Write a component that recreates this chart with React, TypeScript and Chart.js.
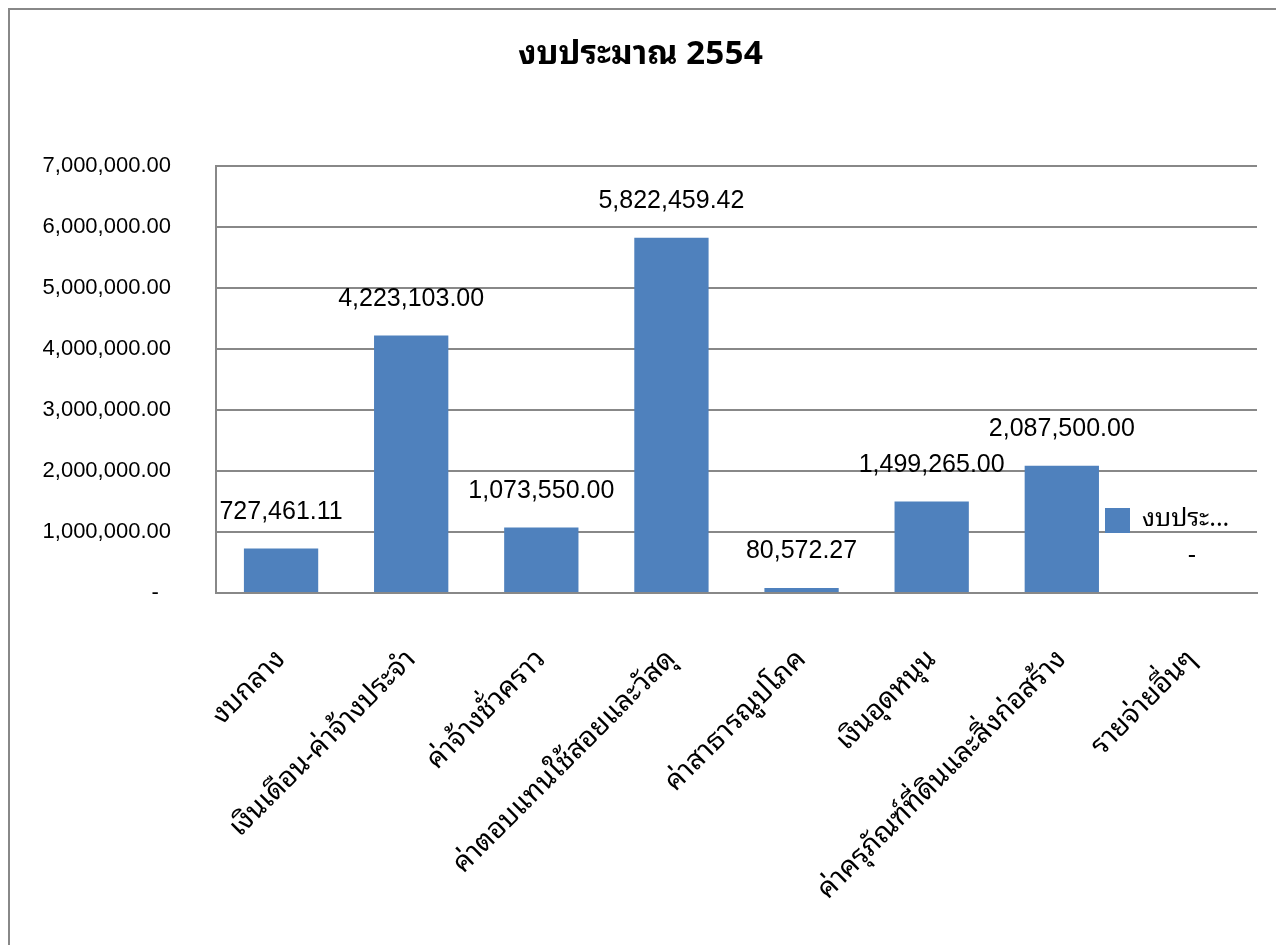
import React, { useEffect, useRef } from "react";
import { Chart, registerables } from "chart.js";

Chart.register(...registerables);

const chartTitle = "งบประมาณ 2554";
const seriesName = "งบประมาณ 2554";
const categories = [
  "งบกลาง",
  "เงินเดือน-ค่าจ้างประจำ",
  "ค่าจ้างชั่วคราว",
  "ค่าตอบแทนใช้สอยและวัสดุ",
  "ค่าสาธารณูปโภค",
  "เงินอุดหนุน",
  "ค่าครุภัณฑ์ที่ดินและสิ่งก่อสร้าง",
  "รายจ่ายอื่นๆ",
];
const budgetValues = [727461.11, 4223103.0, 1073550.0, 5822459.42, 80572.27, 1499265.0, 2087500.0, 0];
const yTickValues = [0, 1000000, 2000000, 3000000, 4000000, 5000000, 6000000, 7000000];

const BAR_COLOR = "#4F81BD";
const GRID_COLOR = "#888888";
const NUM_FONT = "'Liberation Sans', Arial, sans-serif";
const THAI_FONT = "'Noto Sans Thai Looped', 'Noto Sans Thai', Tahoma, 'Liberation Sans', sans-serif";

const fmt = (v: number) =>
  v === 0 ? "-" : v.toLocaleString("en-US", { minimumFractionDigits: 2, maximumFractionDigits: 2 });

const framePlugin = {
  id: "frame",
  beforeDraw(chart: any) {
    const { ctx, width, height } = chart;
    ctx.save();
    ctx.fillStyle = "#ffffff";
    ctx.fillRect(0, 0, width, height);
    ctx.strokeStyle = GRID_COLOR;
    ctx.lineWidth = 2;
    ctx.beginPath();
    ctx.moveTo(1, height);
    ctx.lineTo(1, 1);
    ctx.lineTo(width - 1, 1);
    ctx.lineTo(width - 1, height);
    ctx.stroke();
    ctx.restore();
  },
};

const dataLabelPlugin = {
  id: "dataLabels",
  afterDatasetsDraw(chart: any) {
    const { ctx } = chart;
    const meta = chart.getDatasetMeta(0);
    const data = chart.data.datasets[0].data as number[];
    ctx.save();
    ctx.font = `25px ${NUM_FONT}`;
    ctx.fillStyle = "#000000";
    ctx.textAlign = "center";
    ctx.textBaseline = "bottom";
    meta.data.forEach((bar: any, i: number) => {
      ctx.fillText(fmt(data[i]), bar.x, bar.y - 24);
    });
    ctx.restore();
  },
};

const legendPlugin = {
  id: "customLegend",
  afterDraw(chart: any) {
    const { ctx, chartArea } = chart;
    const label = chart.data.datasets[0].label as string;
    const boxX = chartArea.right - 152;
    const boxY = chartArea.top + 342;
    const box = 25;
    ctx.save();
    ctx.fillStyle = BAR_COLOR;
    ctx.fillRect(boxX, boxY, box, box);
    ctx.font = `25px ${THAI_FONT}`;
    ctx.fillStyle = "#000000";
    ctx.textAlign = "left";
    ctx.textBaseline = "middle";
    const tx = boxX + box + 12;
    const maxW = 100;
    let text = label;
    if (ctx.measureText(text).width > maxW) {
      let n = text.length;
      while (n > 1 && ctx.measureText(text.slice(0, n) + "...").width > maxW) n--;
      text = text.slice(0, n) + "...";
    }
    ctx.fillText(text, tx, boxY + box / 2 - 2);
    ctx.restore();
  },
};

export default function App() {
  const ref = useRef<HTMLCanvasElement | null>(null);
  useEffect(() => {
    document.documentElement.style.overflow = "hidden";
    if (!ref.current) return;
    const chart = new Chart(ref.current, {
      type: "bar",
      data: {
        labels: categories,
        datasets: [
          {
            label: seriesName,
            data: budgetValues,
            backgroundColor: BAR_COLOR,
            borderWidth: 0,
            categoryPercentage: 1,
            barPercentage: 0.571,
          },
        ],
      },
      options: {
        responsive: false,
        animation: false,
        devicePixelRatio: 1,
        layout: { padding: { left: 16, right: 23, top: 0, bottom: 0 } },
        plugins: {
          legend: { display: false },
          tooltip: { enabled: false },
          title: {
            display: true,
            text: chartTitle,
            color: "#000000",
            font: { family: THAI_FONT, size: 33, weight: "bold", lineHeight: 1.2 },
            padding: { top: 27, bottom: 91.4 },
          },
        },
        scales: {
          x: {
            grid: { display: false, drawTicks: false },
            border: { display: true, color: GRID_COLOR, width: 2 },
            ticks: {
              autoSkip: false,
              maxRotation: 45,
              minRotation: 45,
              padding: 50,
              color: "#000000",
              font: { family: THAI_FONT, size: 28 },
            },
            afterFit: (scale: any) => {
              scale.height = 352;
            },
          },
          y: {
            min: 0,
            max: 7000000,
            afterBuildTicks: (scale: any) => {
              scale.ticks = yTickValues.map((v) => ({ value: v }));
            },
            grid: { color: GRID_COLOR, lineWidth: 2, drawTicks: false },
            border: { display: true, color: GRID_COLOR, width: 2 },
            ticks: {
              padding: 45,
              color: "#000000",
              font: { family: NUM_FONT, size: 22 },
              callback: (v: any) => (Number(v) === 0 ? "-  " : fmt(Number(v))),
            },
            afterFit: (scale: any) => {
              scale.width = 192;
            },
          },
        },
      },
      plugins: [framePlugin, dataLabelPlugin, legendPlugin],
    });
    return () => chart.destroy();
  }, []);
  return (
    <div>
      <canvas ref={ref} width={1272} height={937} style={{ display: "block" }} />
    </div>
  );
}
